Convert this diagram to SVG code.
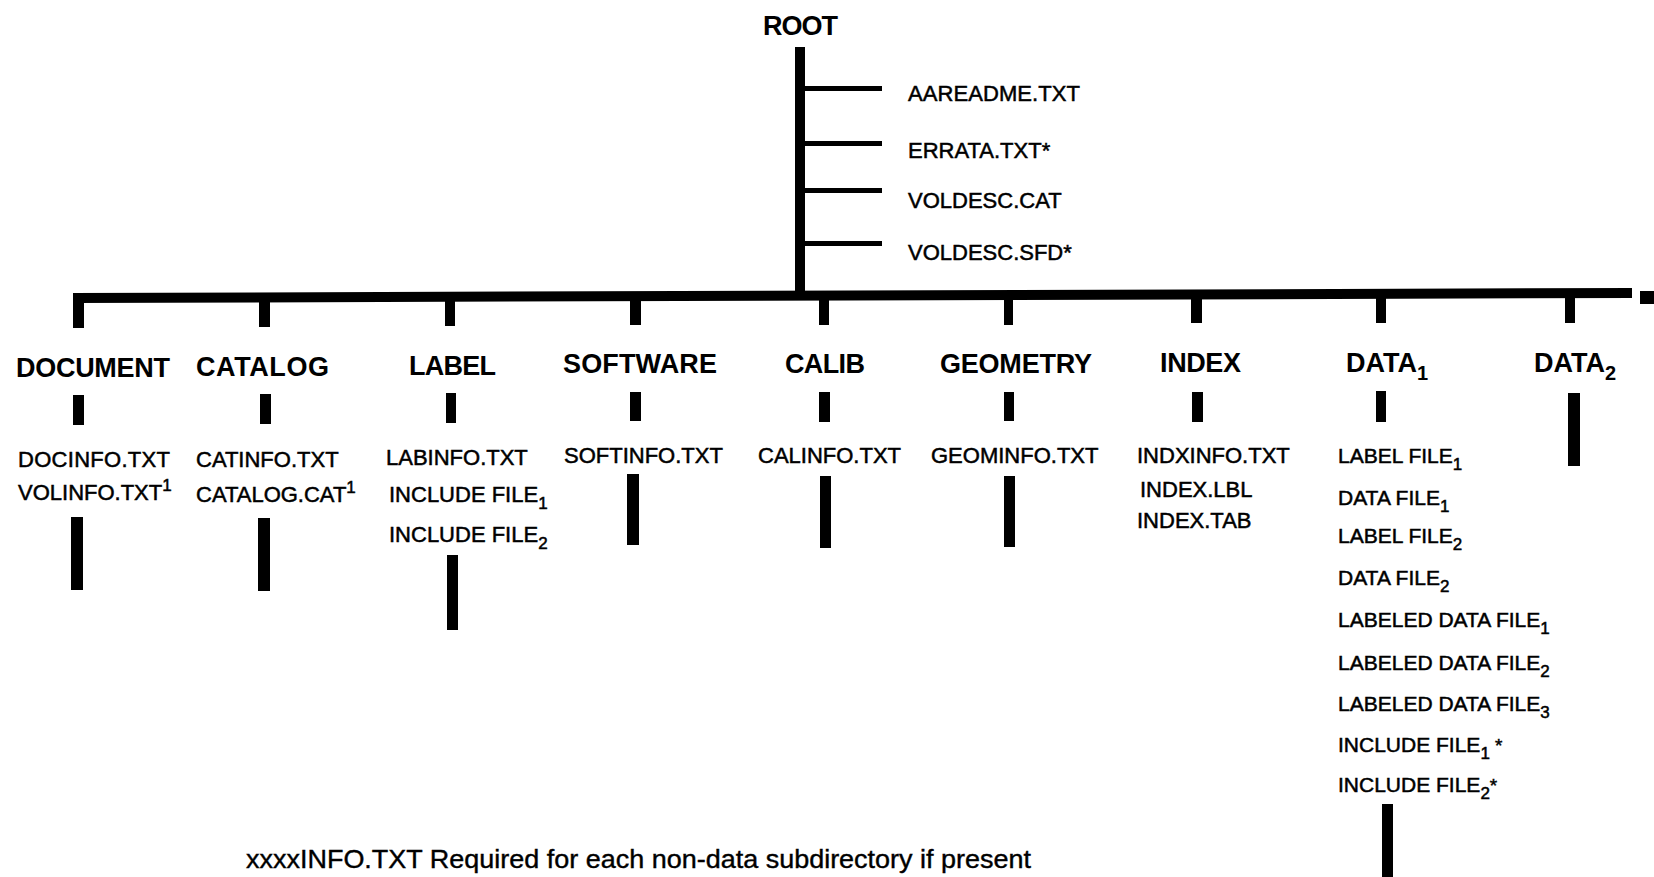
<svg xmlns="http://www.w3.org/2000/svg" width="1654" height="877" viewBox="0 0 1654 877">
<style>
text{font-family:"Liberation Sans",Arial,sans-serif;fill:#000}
.h{font-size:27px;font-weight:bold}
.f{font-size:22px;stroke:#000;stroke-width:0.5px}
.d{font-size:21px;stroke:#000;stroke-width:0.5px}
.s{font-size:17px}
.hs{font-size:20px}
.st{font-size:19px}
.ft{font-size:26px;stroke:#000;stroke-width:0.4px}
.bar{fill:#000}
</style>
<rect width="1654" height="877" fill="#fff"/>
<g id="connectors" class="bar">
  <rect x="795" y="47" width="10" height="250"/>
  <rect x="805" y="86" width="77" height="5"/>
  <rect x="805" y="141" width="77" height="5"/>
  <rect x="805" y="188" width="77" height="5"/>
  <rect x="805" y="241" width="77" height="5"/>
  <polygon points="73,293 1632,288 1632,298 73,303"/>
  <rect x="1640" y="291" width="14" height="13"/>
  <rect x="73" y="295" width="11" height="33"/>
  <rect x="259" y="295" width="11" height="32"/>
  <rect x="445" y="295" width="10" height="31"/>
  <rect x="630" y="294" width="11" height="31"/>
  <rect x="819" y="294" width="10" height="31"/>
  <rect x="1004" y="292" width="9" height="33"/>
  <rect x="1191" y="292" width="11" height="31"/>
  <rect x="1376" y="291" width="10" height="32"/>
  <rect x="1565" y="290" width="10" height="33"/>
  <rect x="73" y="395" width="11" height="30"/>
  <rect x="260" y="394" width="11" height="30"/>
  <rect x="446" y="393" width="10" height="30"/>
  <rect x="630" y="392" width="11" height="29"/>
  <rect x="819" y="392" width="11" height="30"/>
  <rect x="1004" y="392" width="10" height="29"/>
  <rect x="1192" y="392" width="11" height="30"/>
  <rect x="1376" y="391" width="10" height="31"/>
  <rect x="1568" y="393" width="12" height="73"/>
  <rect x="71" y="517" width="12" height="73"/>
  <rect x="258" y="518" width="12" height="73"/>
  <rect x="447" y="555" width="11" height="75"/>
  <rect x="627" y="474" width="12" height="71"/>
  <rect x="820" y="476" width="11" height="72"/>
  <rect x="1004" y="476" width="11" height="71"/>
  <rect x="1382" y="804" width="11" height="73"/>
</g>
<g id="root">
  <text class="h" x="763" y="35" font-size="26" textLength="75">ROOT</text>
  <text class="f" x="908" y="101" textLength="172">AAREADME.TXT</text>
  <text class="f" x="908" y="158">ERRATA.TXT*</text>
  <text class="f" x="908" y="208">VOLDESC.CAT</text>
  <text class="f" x="908" y="260">VOLDESC.SFD*</text>
</g>
<g id="document">
  <text class="h" x="16" y="377" textLength="154">DOCUMENT</text>
  <text class="f" x="18" y="467" textLength="152">DOCINFO.TXT</text>
  <text class="f" x="18" y="500">VOLINFO.TXT<tspan class="s" dy="-9">1</tspan></text>
</g>
<g id="catalog">
  <text class="h" x="196" y="376" textLength="133">CATALOG</text>
  <text class="f" x="196" y="467">CATINFO.TXT</text>
  <text class="f" x="196" y="502">CATALOG.CAT<tspan class="s" dy="-9">1</tspan></text>
</g>
<g id="label">
  <text class="h" x="409" y="375" textLength="87">LABEL</text>
  <text class="f" x="386" y="465">LABINFO.TXT</text>
  <text class="f" x="389" y="502">INCLUDE FILE<tspan class="s" dy="7">1</tspan></text>
  <text class="f" x="389" y="542">INCLUDE FILE<tspan class="s" dy="7">2</tspan></text>
</g>
<g id="software">
  <text class="h" x="563" y="373" textLength="154">SOFTWARE</text>
  <text class="f" x="564" y="463">SOFTINFO.TXT</text>
</g>
<g id="calib">
  <text class="h" x="785" y="373" textLength="80">CALIB</text>
  <text class="f" x="758" y="463">CALINFO.TXT</text>
</g>
<g id="geometry">
  <text class="h" x="940" y="373" textLength="152">GEOMETRY</text>
  <text class="f" x="931" y="463">GEOMINFO.TXT</text>
</g>
<g id="index">
  <text class="h" x="1160" y="372" textLength="81">INDEX</text>
  <text class="f" x="1137" y="463">INDXINFO.TXT</text>
  <text class="f" x="1140" y="497">INDEX.LBL</text>
  <text class="f" x="1137" y="528">INDEX.TAB</text>
</g>
<g id="data1">
  <text class="h" x="1346" y="372">DATA<tspan class="hs" dy="8">1</tspan></text>
  <text class="d" x="1338" y="463">LABEL FILE<tspan class="s" dy="7">1</tspan></text>
  <text class="d" x="1338" y="505">DATA FILE<tspan class="s" dy="7">1</tspan></text>
  <text class="d" x="1338" y="543">LABEL FILE<tspan class="s" dy="7">2</tspan></text>
  <text class="d" x="1338" y="585">DATA FILE<tspan class="s" dy="7">2</tspan></text>
  <text class="d" x="1338" y="627">LABELED DATA FILE<tspan class="s" dy="7">1</tspan></text>
  <text class="d" x="1338" y="670">LABELED DATA FILE<tspan class="s" dy="7">2</tspan></text>
  <text class="d" x="1338" y="711">LABELED DATA FILE<tspan class="s" dy="7">3</tspan></text>
  <text class="d" x="1338" y="752">INCLUDE FILE<tspan class="s" dy="7">1</tspan><tspan class="st" dy="-7"> *</tspan></text>
  <text class="d" x="1338" y="792">INCLUDE FILE<tspan class="s" dy="7">2</tspan><tspan class="st" dy="-7">*</tspan></text>
</g>
<g id="data2">
  <text class="h" x="1534" y="372">DATA<tspan class="hs" dy="8">2</tspan></text>
</g>
<g id="footnote">
  <text class="ft" x="246" y="868" textLength="785" lengthAdjust="spacingAndGlyphs">xxxxINFO.TXT Required for each non-data subdirectory if present</text>
</g>
</svg>
